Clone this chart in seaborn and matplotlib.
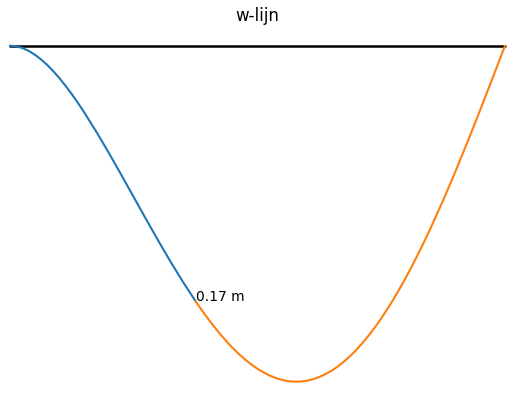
import matplotlib
matplotlib.use("Agg")
import matplotlib.pyplot as plt
import seaborn as sns

# w-lijn: doorbuiging van de ligger (x in m, w in m, omlaag negatief)
L = 10.0
x_ligger = [0.0, L]
w_ligger = [0.0, 0.0]

# veld 1 (blauw)
x_blauw = [0.0, 0.125, 0.25, 0.375, 0.5, 0.625, 0.75, 0.875, 1.0, 1.125, 1.25, 1.375, 1.5,
           1.75, 2.0, 2.25, 2.5, 2.75, 3.0, 3.25, 3.5, 3.75]
w_blauw = [0.0, -0.00039, -0.00152, -0.00335, -0.00583, -0.00891, -0.01255, -0.01670, -0.02132,
           -0.02638, -0.03182, -0.03760, -0.04370,
           -0.05666, -0.07040, -0.08466, -0.09917, -0.11367, -0.12795, -0.14178, -0.15497, -0.16734]

# veld 2 (oranje)
x_oranje = [3.75, 3.875, 4.0, 4.125, 4.25, 4.375, 4.5, 4.625, 4.75, 4.875, 5.0, 5.125, 5.25,
            5.375, 5.5, 5.625, 5.75, 5.875, 6.0, 6.125, 6.25, 6.375, 6.5, 6.625, 6.75, 6.875,
            7.0, 7.125, 7.25, 7.375, 7.5, 7.625, 7.75, 7.875, 8.0, 8.125, 8.25, 8.375, 8.5,
            8.75, 9.0, 9.25, 9.5, 9.75, 10.0]
w_oranje = [-0.16734, -0.17316, -0.17872, -0.18399, -0.18896, -0.19361, -0.19792, -0.20188,
            -0.20548, -0.20871, -0.21155, -0.21400, -0.21603, -0.21766, -0.21886, -0.21963,
            -0.21997, -0.21988, -0.21934, -0.21835, -0.21692, -0.21505, -0.21273, -0.20996,
            -0.20675, -0.20311, -0.19903, -0.19452, -0.18959, -0.18425, -0.17850, -0.17235,
            -0.16582, -0.15891, -0.15164, -0.14402, -0.13607, -0.12780, -0.11922,
            -0.10123, -0.08225, -0.06245, -0.04200, -0.02112, 0.0]

sns.set_style("white")
plt.rcParams['font.family'] = ['DejaVu Sans']
plt.rcParams['text.color'] = 'black'

fig = plt.figure(figsize=(5.15, 4.09), dpi=100)
ax = fig.add_axes([10 / 515, 0.04807, 495 / 515, 0.85887])

sns.lineplot(x=x_ligger, y=w_ligger, color='black', linewidth=1.8, ax=ax, clip_on=False)
sns.lineplot(x=x_blauw, y=w_blauw, color='#1f77b4', linewidth=1.5, ax=ax, clip_on=False)
sns.lineplot(x=x_oranje, y=w_oranje, color='#ff7f0e', linewidth=1.5, ax=ax, clip_on=False)

ax.text(x_blauw[-1], w_blauw[-1], f"{abs(w_blauw[-1]):.2f} m", fontsize=10, color='black')

ax.set_xlim(0, L)
ax.set_ylim(-0.225, 0.005)
ax.axis('off')

fig.text(0.5, 1 - 21 / 409, 'w-lijn', ha='center', va='baseline', fontsize=12, color='black')

fig.savefig('out.png', dpi=100)
